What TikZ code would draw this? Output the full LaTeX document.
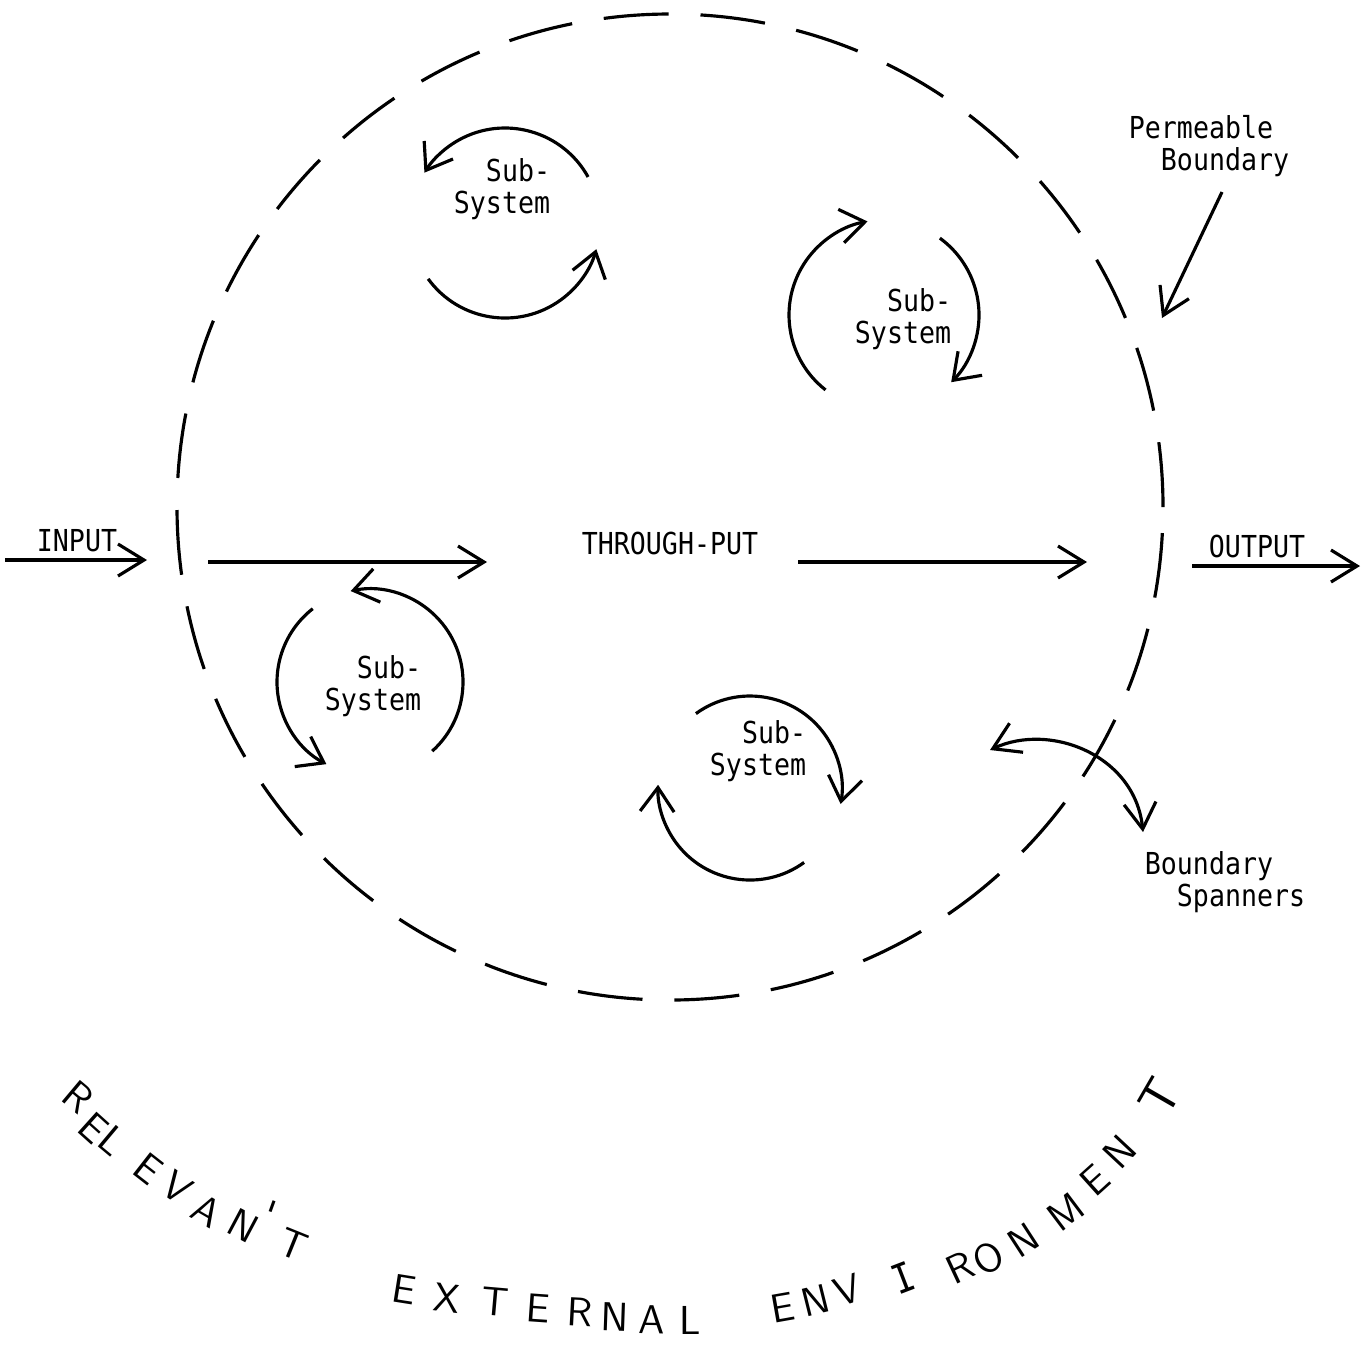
\documentclass[tikz,border=0pt]{standalone}
\usepackage{fontspec}
\newfontfamily\typefont[FakeStretch=0.88]{DejaVu Sans Mono}
\usetikzlibrary{arrows.meta}
\begin{document}
\begin{tikzpicture}[
  tw/.style={font=\typefont\fontsize{8.6}{9.1}\selectfont,inner sep=0pt},
  hand/.style={font=\sffamily\fontsize{11.5}{11.5}\selectfont,inner sep=0pt},
  flow/.style={line width=0.9pt,-{Straight Barb[length=2.6mm,width=3.2mm]}},
  twoway/.style={line width=0.9pt,{Straight Barb[length=2.6mm,width=3.2mm]}-{Straight Barb[length=2.6mm,width=3.2mm]}},
  cyc/.style={line width=0.9pt,-{Straight Barb[length=2.4mm,width=3.4mm]}},
  bound/.style={line width=0.9pt,dash pattern=on 6.5mm off 3.2mm}]
\useasboundingbox (0,0) rectangle (13.72,-13.53);
\coordinate (sys) at (6.70,-5.07);
\draw[bound] (sys) circle[radius=4.93];
\node[tw] (inp) at (0.77,-5.41) {INPUT};
\coordinate (inA) at (0.05,-5.60);
\coordinate (inB) at (1.47,-5.60);
\draw[flow] (inA) -- (inB);
\node[tw] (thru) at (6.70,-5.43) {THROUGH-PUT};
\coordinate (thA) at (2.08,-5.62);
\coordinate (thB) at (4.87,-5.62);
\coordinate (thC) at (7.98,-5.62);
\coordinate (thD) at (10.87,-5.62);
\draw[flow] (thA) -- (thB);
\draw[flow] (thC) -- (thD);
\node[tw] (outp) at (12.57,-5.46) {OUTPUT};
\coordinate (outA) at (11.92,-5.66);
\coordinate (outB) at (13.60,-5.66);
\draw[flow] (outA) -- (outB);
\coordinate (c1) at (5.05,-2.23);
\node[tw,align=right] (ss1) at (5.02,-1.89) {Sub-\\System};
\draw[cyc] ([shift={(29:0.95)}]c1) arc[start angle=29,end angle=148,radius=0.95];
\draw[cyc] ([shift={(216:0.95)}]c1) arc[start angle=216,end angle=344,radius=0.95];
\coordinate (c2) at (8.84,-3.15);
\node[tw,align=right] (ss2) at (9.03,-3.19) {Sub-\\System};
\draw[cyc] ([shift={(232:0.95)}]c2) arc[start angle=232,end angle=100,radius=0.95];
\draw[cyc] ([shift={(54:0.95)}]c2) arc[start angle=54,end angle=-45,radius=0.95];
\coordinate (c3) at (3.70,-6.82);
\node[tw,align=right] (ss3) at (3.73,-6.86) {Sub-\\System};
\draw[cyc] ([shift={(-48:0.93)}]c3) arc[start angle=-48,end angle=102,radius=0.93];
\draw[cyc] ([shift={(128:0.93)}]c3) arc[start angle=128,end angle=242,radius=0.93];
\coordinate (c4) at (7.50,-7.88);
\node[tw,align=right] (ss4) at (7.58,-7.51) {Sub-\\System};
\draw[cyc] ([shift={(126:0.92)}]c4) arc[start angle=126,end angle=-10,radius=0.92];
\draw[cyc] ([shift={(-54:0.92)}]c4) arc[start angle=-54,end angle=-182,radius=0.92];
\node[tw,align=left] (perm) at (12.09,-1.46) {Permeable\\\phantom{Pe}Boundary};
\coordinate (pmA) at (12.22,-1.92);
\coordinate (pmB) at (11.62,-3.18);
\draw[flow] (pmA) -- (pmB);
\node[tw,align=left] (span) at (12.25,-8.82) {Boundary\\\phantom{Bo}Spanners};
\coordinate (spA) at (9.90,-7.50);
\coordinate (spB) at (11.43,-8.32);
\draw[twoway] (spA) .. controls (10.50,-7.22) and (11.35,-7.55) .. (spB);
\foreach \ch/\x/\y/\a [count=\i] in {R/0.78/-10.97/-40, E/0.94/-11.28/-42, L/1.13/-11.41/-40,
    E/1.48/-11.69/-38, V/1.77/-11.87/-35, A/2.07/-12.11/-30, N/2.43/-12.26/-28,
    \textquotesingle/2.70/-12.15/-20, T/2.93/-12.45/-22,
    E/4.04/-12.89/-9, X/4.47/-12.98/-7, T/4.95/-13.02/-5, E/5.38/-13.08/-4,
    R/5.80/-13.12/-3, N/6.15/-13.17/-2, A/6.52/-13.20/-1, L/6.90/-13.20/0,
    E/7.83/-13.08/10, N/8.16/-13.00/14, V/8.48/-12.90/18, {\typefont I}/9.03/-12.78/21,
    R/9.60/-12.67/25, O/9.88/-12.58/29, N/10.23/-12.40/33, M/10.66/-12.12/37,
    E/10.95/-11.80/42, N/11.20/-11.52/47}
  \node[hand,rotate=\a] (env\i) at (\x,\y) {\ch};
\node[hand,rotate=60,scale=1.25] (envT) at (11.60,-10.97) {T};
\end{tikzpicture}
\end{document}
